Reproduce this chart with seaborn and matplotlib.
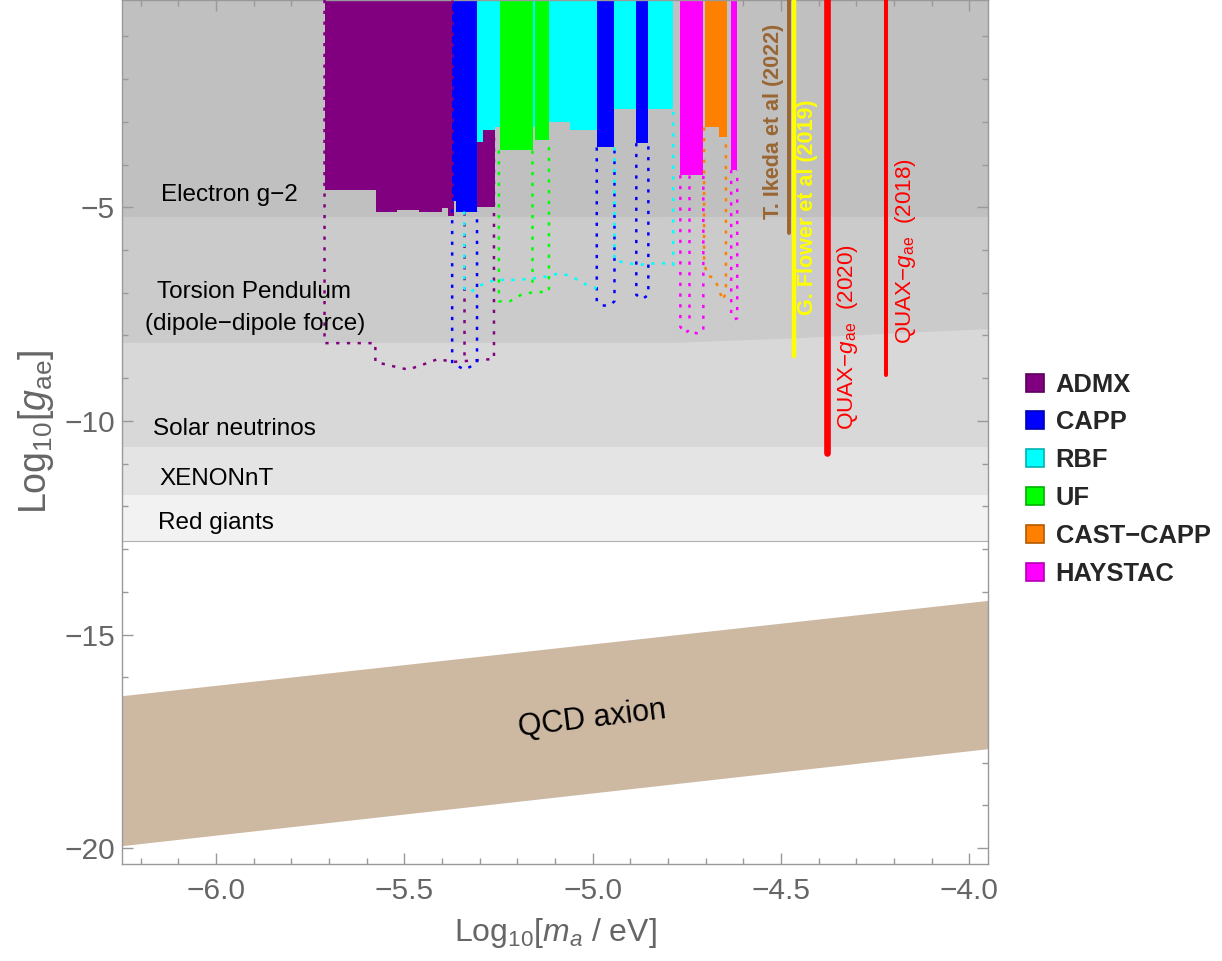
import numpy as np
import pandas as pd
import matplotlib
matplotlib.use("Agg")
import matplotlib.pyplot as plt
import matplotlib.colors as mcolors
from matplotlib.patches import Patch
import seaborn as sns

# ---------------- data ----------------
XLIM = (-6.25, -3.95)
YLIM = (-20.37, -0.15)

# background astrophysical / lab limits (lower edges of excluded bands)
redgiant_lim = -12.82
xenon_lim = -11.74
solar_lim = -10.60
torsion_x = [-6.25, -4.78, -4.45, -4.15, -3.95]
torsion_y = [-8.16, -8.16, -8.05, -7.92, -7.84]
g2_lim = -5.23

# QCD axion band
qcd_x = [-6.25, -3.95]
qcd_upper = [-16.43, -14.20]
qcd_lower = [-19.94, -17.67]

# haloscope exclusions: segments (x0, x1, lower limit)
admx_x0 = [-5.712, -5.574, -5.52, -5.46, -5.40, -5.385, -5.306]
admx_x1 = [-5.574, -5.52, -5.46, -5.40, -5.385, -5.368, -5.259]
admx_lim = [-4.60, -5.10, -5.06, -5.10, -5.02, -5.20, -5.00]

rbf_x0 = [-5.307, -5.290, -5.259, -5.116, -5.061, -4.942]
rbf_x1 = [-5.290, -5.259, -5.116, -5.061, -4.942, -4.786]
rbf_lim = [-3.47, -3.20, -3.13, -3.00, -3.20, -2.70]

capp_x0 = [-5.373, -5.362, -4.989, -4.884]
capp_x1 = [-5.362, -5.307, -4.942, -4.852]
capp_lim = [-4.85, -5.10, -3.60, -3.50]

uf_x0 = [-5.246, -5.153]
uf_x1 = [-5.159, -5.116]
uf_lim = [-3.67, -3.43]

cast_x0 = [-4.701, -4.665]
cast_x1 = [-4.665, -4.643]
cast_lim = [-3.13, -3.35]

haystac_x0 = [-4.767, -4.632]
haystac_x1 = [-4.706, -4.616]
haystac_lim = [-4.25, -4.13]

# dotted outlines (projected g_ae reach)
admx_dot_x = [[-5.712, -5.712, -5.577, -5.577, -5.53, -5.49, -5.45, -5.41, -5.373, -5.34, -5.262, -5.262],
              [-5.373, -5.373], [-5.341, -5.341]]
admx_dot_y = [[-0.15, -8.18, -8.18, -8.62, -8.72, -8.80, -8.68, -8.55, -8.62, -8.60, -8.55, -3.20],
              [-0.15, -5.05], [-5.10, -8.60]]
capp_dot_x = [[-5.373, -5.373, -5.34, -5.307, -5.307],
              [-4.989, -4.989, -4.975, -4.955, -4.942, -4.942],
              [-4.884, -4.884, -4.868, -4.852, -4.852]]
capp_dot_y = [[-5.05, -8.65, -8.80, -8.65, -5.10],
              [-3.60, -7.20, -7.30, -7.30, -7.20, -3.60],
              [-3.50, -7.05, -7.15, -7.05, -3.50]]
rbf_dot_x = [[-5.341, -5.341, -5.325, -5.305, -5.26, -5.20, -5.14, -5.09, -5.06, -5.02, -4.989],
             [-4.942, -4.942, -4.88, -4.82, -4.786, -4.786]]
rbf_dot_y = [[-5.10, -6.90, -7.00, -6.85, -6.70, -6.70, -6.65, -6.55, -6.60, -6.80, -6.90],
             [-3.60, -6.25, -6.35, -6.30, -6.35, -2.70]]
uf_dot_x = [[-5.249, -5.249, -5.22, -5.19, -5.165, -5.116, -5.116], [-5.161, -5.161]]
uf_dot_y = [[-3.67, -7.20, -7.20, -7.05, -7.00, -6.97, -3.43], [-3.67, -6.90]]
cast_dot_x = [[-4.704, -4.704, -4.695, -4.678, -4.665, -4.655, -4.646, -4.646]]
cast_dot_y = [[-3.13, -6.30, -6.60, -6.65, -6.90, -7.18, -7.00, -3.30]]
haystac_dot_x = [[-4.767, -4.767, -4.755, -4.74, -4.725, -4.706, -4.706], [-4.743, -4.743],
                 [-4.632, -4.632, -4.624, -4.616, -4.616]]
haystac_dot_y = [[-4.25, -7.80, -7.95, -7.85, -7.95, -7.90, -4.25], [-4.25, -7.75],
                 [-4.13, -7.50, -7.62, -7.60, -4.13]]

# other experiments (vertical lines)
line_names = ["T. Ikeda et al (2022)", "G. Flower et al (2019)",
              "QUAX−$g_{\\mathrm{ae}}$  (2020)", "QUAX−$g_{\\mathrm{ae}}$  (2018)"]
line_x = [-4.479, -4.466, -4.378, -4.222]
line_bottom = [-5.60, -8.47, -10.76, -8.93]
line_text_x = [-4.519, -4.429, -4.323, -4.169]
line_text_y = [-2.99, -5.00, -8.04, -6.03]

# ---------------- style ----------------
sns.set_theme(style="ticks")
plt.rcParams['font.family'] = ['Liberation Sans', 'DejaVu Sans']
plt.rcParams['mathtext.fontset'] = 'custom'
plt.rcParams['mathtext.rm'] = 'Liberation Sans'
plt.rcParams['mathtext.it'] = 'Liberation Sans:italic'
plt.rcParams['mathtext.bf'] = 'Liberation Sans:bold'

fig = plt.figure(figsize=(12.22, 9.61), dpi=100)
ax = fig.add_axes([0.0998, 0.1009, 0.7087, 0.8991])
ax.set_xlim(*XLIM)
ax.set_ylim(*YLIM)
top = 1.0

# background bands
xs = np.array(XLIM)
ax.fill_between(xs, redgiant_lim, top, color="#f2f2f2", lw=0, zorder=0.1)
ax.fill_between(xs, xenon_lim, top, color="#e4e4e4", lw=0, zorder=0.2)
ax.fill_between(xs, solar_lim, top, color="#d8d8d8", lw=0, zorder=0.3)
ax.fill_between(torsion_x, torsion_y, top, color="#cbcbcb", lw=0, zorder=0.4)
ax.fill_between(xs, g2_lim, top, color="#c0c0c0", lw=0, zorder=0.5)
ax.plot(xs, [redgiant_lim] * 2, color="#b0b0b0", lw=0.8, zorder=0.6)

# QCD band
ax.fill_between(qcd_x, qcd_lower, qcd_upper, color="#cdb8a2", lw=0, zorder=0.7)

colors = {"ADMX": "#800080", "CAPP": "#0000ff", "RBF": "#00ffff",
          "UF": "#00ff00", "CAST−CAPP": "#ff8000", "HAYSTAC": "#ff00ff"}

def fill_segments(x0s, x1s, lims, color, z):
    for a, b, l in zip(x0s, x1s, lims):
        ax.fill_between([a, b], [l, l], top, color=color, lw=0, zorder=z)

fill_segments(admx_x0, admx_x1, admx_lim, colors["ADMX"], 2.0)
fill_segments(rbf_x0, rbf_x1, rbf_lim, colors["RBF"], 2.1)
fill_segments(capp_x0, capp_x1, capp_lim, colors["CAPP"], 2.2)
fill_segments(uf_x0, uf_x1, uf_lim, colors["UF"], 2.3)
fill_segments(cast_x0, cast_x1, cast_lim, colors["CAST−CAPP"], 2.4)
fill_segments(haystac_x0, haystac_x1, haystac_lim, colors["HAYSTAC"], 2.5)

def dotted(xl, yl, color):
    for xx, yy in zip(xl, yl):
        df = pd.DataFrame({"x": xx, "y": yy})
        sns.lineplot(data=df, x="x", y="y", sort=False, estimator=None, ax=ax,
                     color=color, lw=1.8, linestyle=(0, (1.3, 3.0)), zorder=3)

dotted(admx_dot_x, admx_dot_y, colors["ADMX"])
dotted(capp_dot_x, capp_dot_y, colors["CAPP"])
dotted(rbf_dot_x, rbf_dot_y, colors["RBF"])
dotted(uf_dot_x, uf_dot_y, colors["UF"])
dotted(cast_dot_x, cast_dot_y, colors["CAST−CAPP"])
dotted(haystac_dot_x, haystac_dot_y, colors["HAYSTAC"])

# vertical lines
line_colors = ["#996633", "#ffff00", "#ff0000", "#ff0000"]
line_widths = [2.8, 3.2, 4.8, 2.9]
for xv, yb, c, w in zip(line_x, line_bottom, line_colors, line_widths):
    df = pd.DataFrame({"x": [xv, xv], "y": [top, yb]})
    sns.lineplot(data=df, x="x", y="y", sort=False, estimator=None, ax=ax,
                 color=c, lw=w, solid_capstyle="round", zorder=4)

text_weights = ["bold", "bold", "normal", "normal"]
text_colors = ["#996633", "#ffff00", "#ff0000", "#ff0000"]
for name, tx, ty, c, wgt in zip(line_names, line_text_x, line_text_y, text_colors, text_weights):
    ax.text(tx, ty, name, rotation=90, ha="center", va="center", color=c,
            fontsize=15.5 if wgt == "bold" else 16.2, fontweight=wgt, zorder=5)

# region labels
lab_kw = dict(ha="center", va="center", fontsize=17.5, color="black", zorder=5)
ax.text(-5.966, -4.72, "Electron g−2", **lab_kw)
ax.text(-5.900, -6.99, "Torsion Pendulum", **lab_kw)
ax.text(-5.897, -7.74, "(dipole−dipole force)", **lab_kw)
ax.text(-5.950, -10.18, "Solar neutrinos", **lab_kw)
ax.text(-6.000, -11.37, "XENONnT", **lab_kw)
ax.text(-6.000, -12.40, "Red giants", **lab_kw)
ax.text(-5.00, -16.97, "QCD axion", ha="center", va="center", fontsize=22,
        rotation=7, rotation_mode="anchor", color="black", zorder=5)

# axes styling
ax.set_xticks([-6.0, -5.5, -5.0, -4.5, -4.0])
ax.set_xticklabels(["−6.0", "−5.5", "−5.0", "−4.5", "−4.0"])
ax.set_yticks([-20, -15, -10, -5])
ax.set_yticklabels(["−20", "−15", "−10", "−5"])
ax.set_xticks(np.arange(-6.2, -3.95, 0.1), minor=True)
ax.set_yticks(np.arange(-20, -0.5, 1.0), minor=True)
ax.tick_params(which="both", direction="in", top=True, right=True,
               color="#999999", labelcolor="#666666", labelsize=21.5, width=1)
ax.tick_params(which="major", length=8)
ax.tick_params(which="minor", length=4)
ax.tick_params(axis="x", which="major", pad=9)
ax.tick_params(axis="y", which="major", pad=5)
for s in ax.spines.values():
    s.set_color("#999999")
    s.set_linewidth(1)
ax.set_xlabel("Log$_{10}$[$m_a$ / eV]", fontsize=23, color="#666666", labelpad=8)
ax.set_ylabel("Log$_{10}$[$g_{\\mathrm{ae}}$]", fontsize=27, color="#666666", labelpad=6)

# legend
handles = [Patch(facecolor=c, edgecolor=tuple(np.array(mcolors.to_rgb(c)) * 0.7), lw=1.2, label=k)
           for k, c in colors.items()]
fig.legend(handles=handles, loc="upper left", bbox_to_anchor=(0.831, 0.623), frameon=False,
           prop={"weight": "bold", "size": 18.4}, handlelength=0.7, handleheight=0.7,
           handletextpad=0.47, labelspacing=0.54, borderaxespad=0)

fig.savefig("out.png", dpi=100)
